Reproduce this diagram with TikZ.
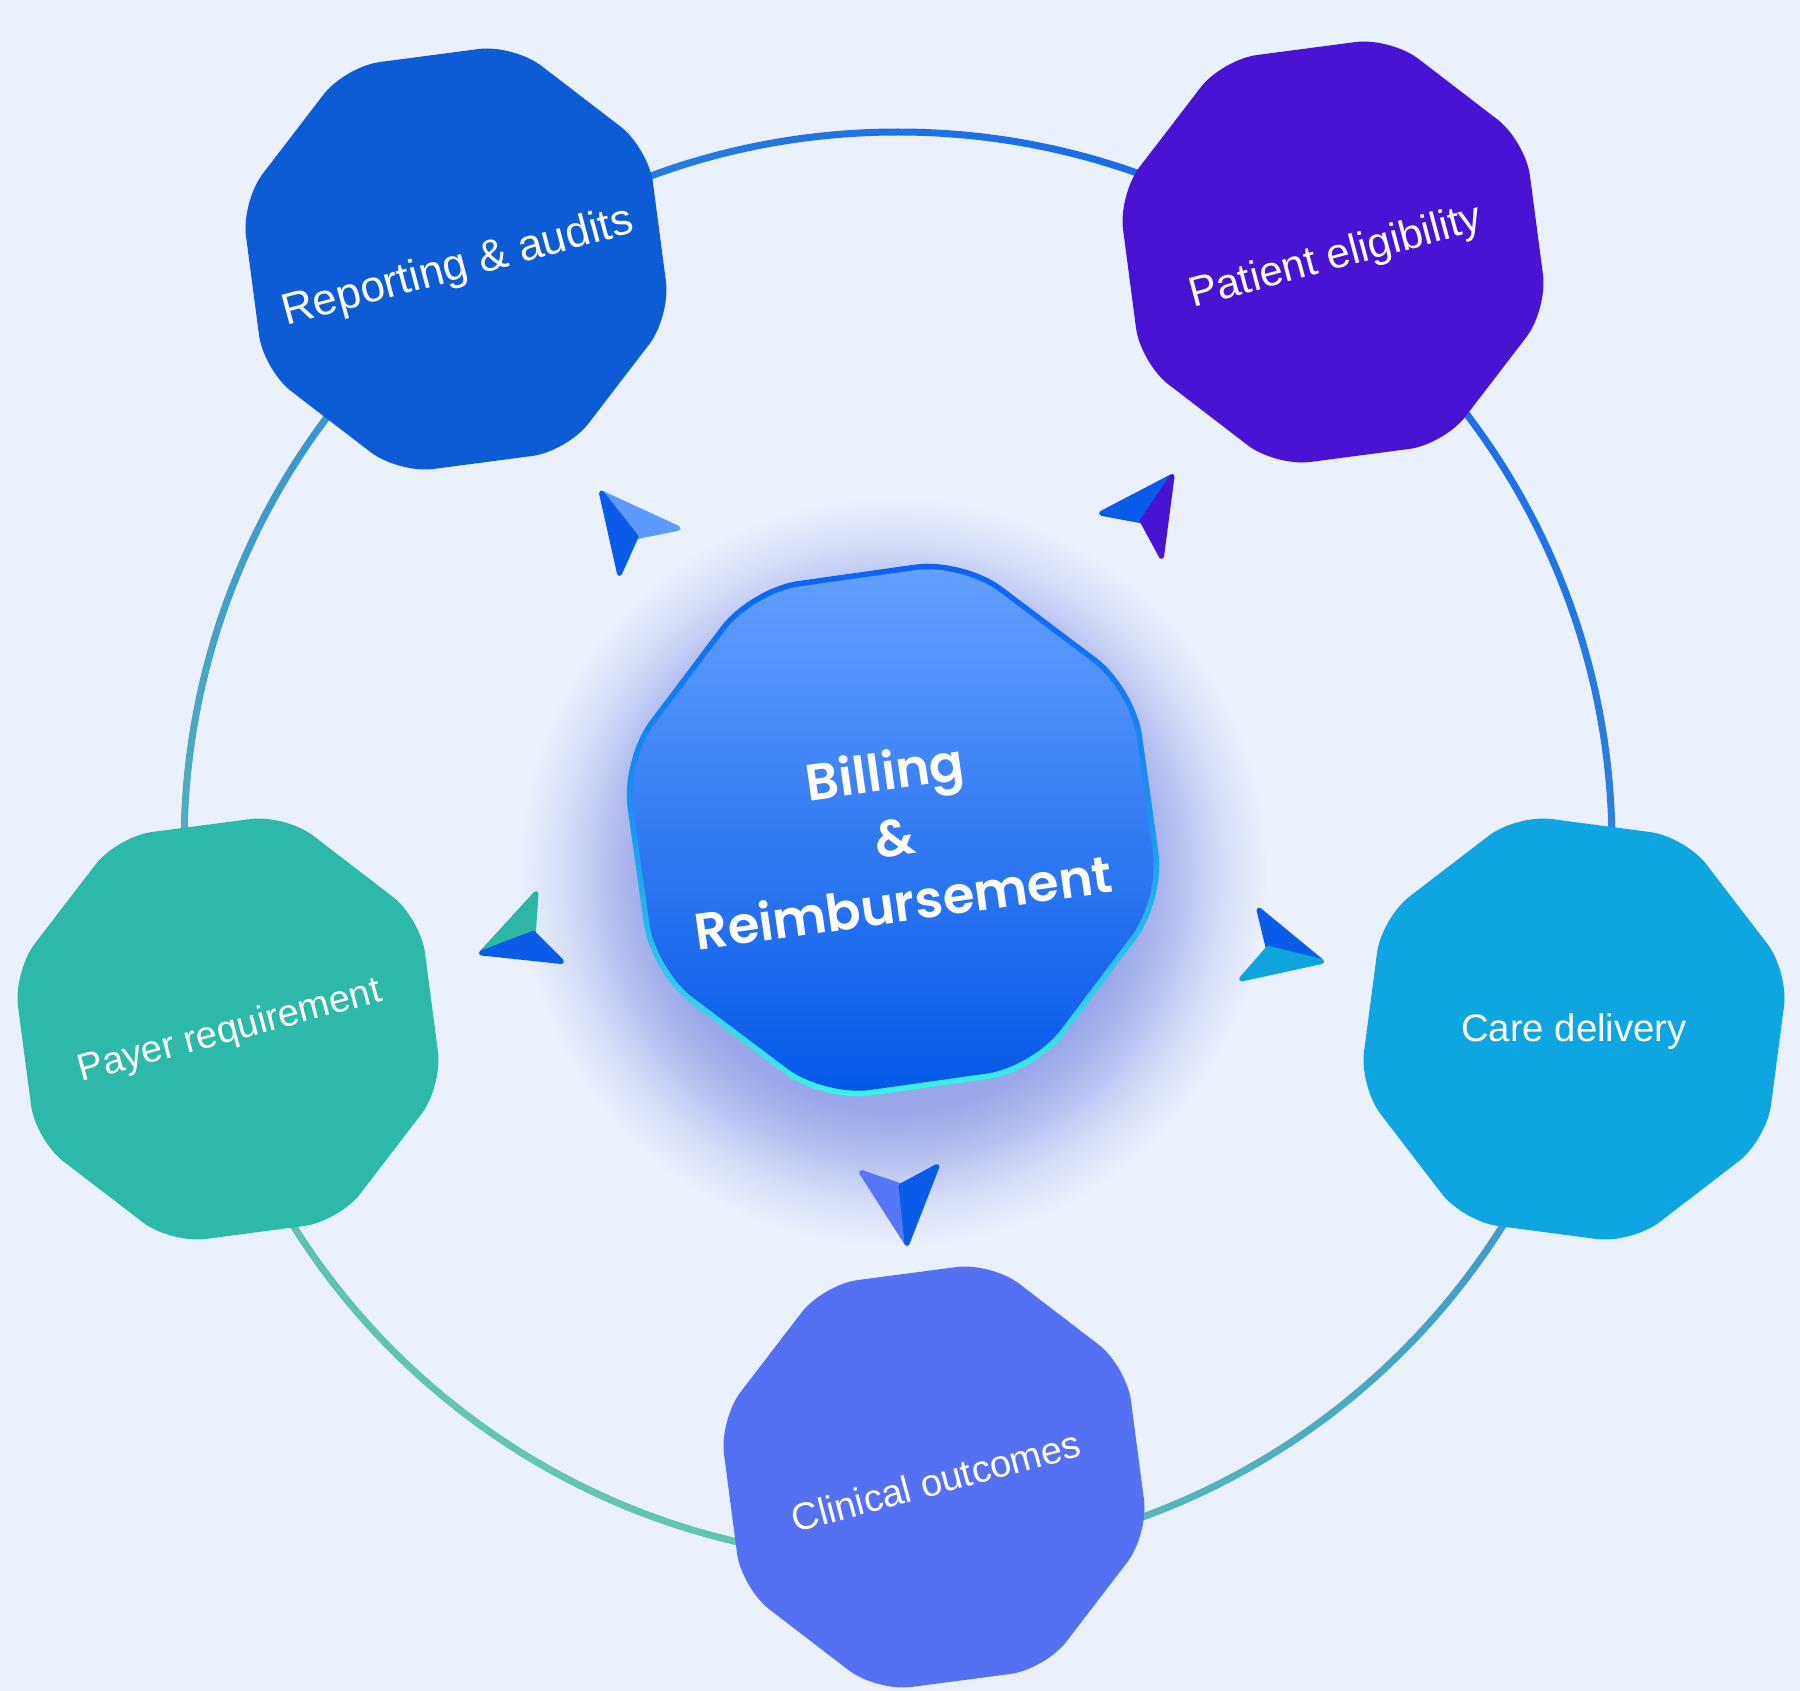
\documentclass[tikz,border=0pt]{standalone}
\usepackage{fontspec}
\usetikzlibrary{shapes.geometric}
\newfontfamily\poppinsfont{Poppins}[BoldFont={Poppins SemiBold}]
\newfontfamily\labelfont{Liberation Sans}
\definecolor{bg}{HTML}{EAF0FC}
\definecolor{glowc}{HTML}{9AA6E9}
\colorlet{glowb}{glowc!60!bg}
\colorlet{glowd}{glowc!25!bg}
\definecolor{repc}{HTML}{0E5BD6}
\definecolor{patc}{HTML}{4913D3}
\definecolor{payc}{HTML}{2DB9A8}
\definecolor{carec}{HTML}{0EA5E0}
\definecolor{clinc}{HTML}{5571F3}
\definecolor{ringblue}{HTML}{1A6CE8}
\definecolor{ringteal}{HTML}{62C6B0}
\definecolor{cfilltop}{HTML}{64A0FF}
\definecolor{cfillbot}{HTML}{0558E8}
\definecolor{cbordtop}{HTML}{0A62F5}
\definecolor{cbordmid}{HTML}{1A98F2}
\definecolor{cbordbot}{HTML}{3EF4E6}
\definecolor{arlight}{HTML}{5B9BFF}
\definecolor{arblue}{HTML}{0A5CE8}
\definecolor{arteal}{HTML}{2DB5A5}
\definecolor{arcyan}{HTML}{0EA5DC}
\definecolor{arperi}{HTML}{5577F5}
\definecolor{arpurple}{HTML}{4913D3}
\pgfdeclareradialshading{glowshade}{\pgfpoint{0bp}{0bp}}{color(0bp)=(glowc); color(16bp)=(glowc); color(19.5bp)=(glowb); color(22bp)=(glowd); color(25bp)=(bg); color(50bp)=(bg)}
\tikzset{
  octo/.style={regular polygon, regular polygon sides=8, minimum size=4.44cm, inner sep=0pt, rounded corners=0.35cm},
  cocto/.style={regular polygon, regular polygon sides=8, inner sep=0pt, rotate=8},
  lbl/.style={text=white, inner sep=0pt},
  arrowhalf/.style={fill=#1, draw=#1, line width=0.05cm, line join=round},
}
\begin{document}
\begin{tikzpicture}[x=0.01cm, y=-0.01cm]
\useasboundingbox (0,0) rectangle (1800,1691);
\clip (0,0) rectangle (1800,1691);
\fill[bg] (0,0) rectangle (1800,1691);
% glow
\shade[shading=glowshade] (893,872) circle[radius=375];
% ring
\coordinate (ringc) at (898,846);
\shade[even odd rule, top color=ringblue, bottom color=ringteal, shading angle=-30] (ringc) circle[radius=717.5] (ringc) circle[radius=710.5];
% arrows
\coordinate (a1t) at (601.5,493); \coordinate (a1w) at (678,528.3); \coordinate (a1n) at (636,536.7); \coordinate (a1b) at (619.5,573.5);
\filldraw[arrowhalf=arlight] (a1t) -- (a1w) -- (a1n) -- cycle;
\filldraw[arrowhalf=arblue] (a1t) -- (a1n) -- (a1b) -- cycle;
\coordinate (a2t) at (1172,476.5); \coordinate (a2w) at (1101.5,513.3); \coordinate (a2n) at (1142.3,521); \coordinate (a2b) at (1161.5,556.5);
\filldraw[arrowhalf=arblue] (a2t) -- (a2w) -- (a2n) -- cycle;
\filldraw[arrowhalf=arpurple] (a2t) -- (a2n) -- (a2b) -- cycle;
\coordinate (a3t) at (481.5,953); \coordinate (a3w) at (536,893.5); \coordinate (a3n) at (533.3,933.3); \coordinate (a3b) at (561.5,961.5);
\filldraw[arrowhalf=arteal] (a3t) -- (a3w) -- (a3n) -- cycle;
\filldraw[arrowhalf=arblue] (a3t) -- (a3n) -- (a3b) -- cycle;
\coordinate (a4t) at (1321.5,961.5); \coordinate (a4w) at (1259,910); \coordinate (a4n) at (1268.3,948.3); \coordinate (a4b) at (1241.5,979);
\filldraw[arrowhalf=arblue] (a4t) -- (a4w) -- (a4n) -- cycle;
\filldraw[arrowhalf=arcyan] (a4t) -- (a4n) -- (a4b) -- cycle;
\coordinate (a5t) at (907,1243.5); \coordinate (a5w) at (861.5,1172.5); \coordinate (a5n) at (901,1186); \coordinate (a5b) at (937,1166.5);
\filldraw[arrowhalf=arperi] (a5t) -- (a5w) -- (a5n) -- cycle;
\filldraw[arrowhalf=arblue] (a5t) -- (a5n) -- (a5b) -- cycle;
% outer octagons
\node[octo, fill=repc, regular polygon rotate=7.5] (rep) at (456,259) {};
\node[octo, fill=patc, regular polygon rotate=7.5] (pat) at (1333,252) {};
\node[octo, fill=payc, regular polygon rotate=7.5] (pay) at (228,1029) {};
\node[octo, fill=carec, regular polygon rotate=-7.5] (care) at (1574,1029) {};
\node[octo, fill=clinc, regular polygon rotate=7.5] (clin) at (934,1477) {};
% labels
\node[lbl, rotate=15, font=\labelfont\fontsize{12.5}{15}\selectfont] (replbl) at (458,268) {Reporting \& audits};
\node[lbl, rotate=15, font=\labelfont\fontsize{11.95}{14}\selectfont] (patlbl) at (1336,258) {Patient eligibility};
\node[lbl, rotate=15, font=\labelfont\fontsize{10.8}{13}\selectfont] (paylbl) at (230,1032) {Payer requirement};
\node[lbl, font=\labelfont\fontsize{10.9}{13}\selectfont] (carelbl) at (1574,1032) {Care delivery};
\node[lbl, rotate=15, font=\labelfont\fontsize{10.8}{13}\selectfont] (clinlbl) at (936,1481) {Clinical outcomes};
% centre
\node[cocto, minimum size=5.62cm, rounded corners=0.48cm, top color=cbordtop, bottom color=cbordbot, middle color=cbordmid] (cborder) at (893,830) {};
\node[cocto, minimum size=5.50cm, rounded corners=0.46cm, top color=cfilltop, bottom color=cfillbot] (cfill) at (893,830) {};
\node[rotate=8, align=center, text=white, inner sep=0pt, font=\poppinsfont\bfseries\fontsize{14.6}{18.8}\selectfont] (ctext) at (894,836) {Billing\\\&\\Reimbursement};
\end{tikzpicture}
\end{document}
